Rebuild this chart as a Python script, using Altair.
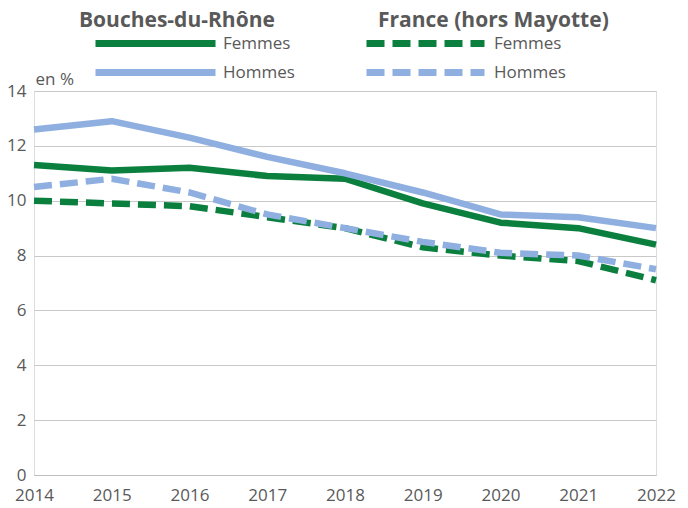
import altair as alt
import pandas as pd

years = [2014, 2015, 2016, 2017, 2018, 2019, 2020, 2021, 2022]
bdr_femmes = [11.3, 11.1, 11.2, 10.9, 10.8, 9.9, 9.2, 9.0, 8.4]
bdr_hommes = [12.6, 12.9, 12.3, 11.6, 11.0, 10.3, 9.5, 9.4, 9.0]
fr_femmes = [10.0, 9.9, 9.8, 9.4, 9.0, 8.3, 8.0, 7.8, 7.1]
fr_hommes = [10.5, 10.8, 10.3, 9.5, 9.0, 8.5, 8.1, 8.0, 7.5]
sexes = ["Femmes", "Hommes"]
groups = ["Bouches-du-Rhône", "France (hors Mayotte)"]
y_ticks = [0, 2, 4, 6, 8, 10, 12, 14]

GREEN = "#0A7F3E"
BLUE = "#8EAFE0"
GREY = "#595959"
FONT = "Open Sans"

df_bdr = pd.DataFrame({
    "annee": years * 2,
    "valeur": bdr_femmes + bdr_hommes,
    "sexe_bdr": [sexes[0]] * len(years) + [sexes[1]] * len(years),
})
df_fr = pd.DataFrame({
    "annee": years * 2,
    "valeur": fr_femmes + fr_hommes,
    "sexe_fr": [sexes[0]] * len(years) + [sexes[1]] * len(years),
})

x_enc = alt.X(
    "annee:Q",
    scale=alt.Scale(domain=[years[0], years[-1]], nice=False, zero=False),
    axis=alt.Axis(values=years, format="d", title=None, grid=False, ticks=False,
                  labelFontSize=17, labelColor=GREY, labelFont=FONT, labelPadding=20,
                  labelBaseline="middle",
                  domainColor="#BFBFBF", domainWidth=1, labelFlush=False),
)
y_enc = alt.Y(
    "valeur:Q",
    scale=alt.Scale(domain=[0, 14], nice=False),
    axis=alt.Axis(values=y_ticks, title="en %", titleAngle=0, titleX=1, titleY=-12,
                  titleAlign="left", titleBaseline="middle", titleFontSize=17,
                  titleFontWeight="normal", titleColor=GREY, titleFont=FONT,
                  grid=True, gridColor="#C8C8C8", gridWidth=1, ticks=False, tickSize=0,
                  domain=False, labelFontSize=17, labelColor=GREY, labelFont=FONT,
                  labelPadding=8),
)

common_leg = dict(
    orient="none", direction="vertical", symbolSize=100, symbolStrokeWidth=7,
    labelFontSize=17, labelColor=GREY, labelFont=FONT, labelLimit=200,
    titleFontSize=21, titleFontWeight="bold", titleColor=GREY, titleFont=FONT,
    titleAnchor="start", titlePadding=4, rowPadding=0, legendY=-81,
    labelBaseline="middle", titleLimit=400,
)

bdr = alt.Chart(df_bdr).mark_line(strokeWidth=6.5, strokeCap="butt", strokeJoin="round").encode(
    x=x_enc, y=y_enc,
    color=alt.Color("sexe_bdr:N",
                    scale=alt.Scale(range=[GREEN, BLUE]),
                    legend=alt.Legend(title=groups[0], symbolType="M-12,0H12",
                                      symbolOffset=68, labelOffset=59, legendX=45,
                                      **common_leg)),
)
fr = alt.Chart(df_fr).mark_line(strokeWidth=6.5, strokeDash=[18, 8], strokeCap="butt").encode(
    x=x_enc, y=y_enc,
    stroke=alt.Stroke("sexe_fr:N",
                      scale=alt.Scale(range=[GREEN, BLUE]),
                      legend=alt.Legend(title=groups[1], symbolType="M-11.8,0H11.8",
                                        symbolDash=[18, 8], symbolOffset=39,
                                        labelOffset=60, legendX=344, **common_leg)),
)

chart = alt.layer(fr, bdr).properties(
    width=622, height=384,
    autosize=alt.AutoSizeParams(type="none"),
    padding={"left": 26, "top": 83, "right": 24, "bottom": 31},
).configure_view(stroke=None).configure(font=FONT)

chart.save("out.html", embed_options={"renderer": "svg", "actions": False})
